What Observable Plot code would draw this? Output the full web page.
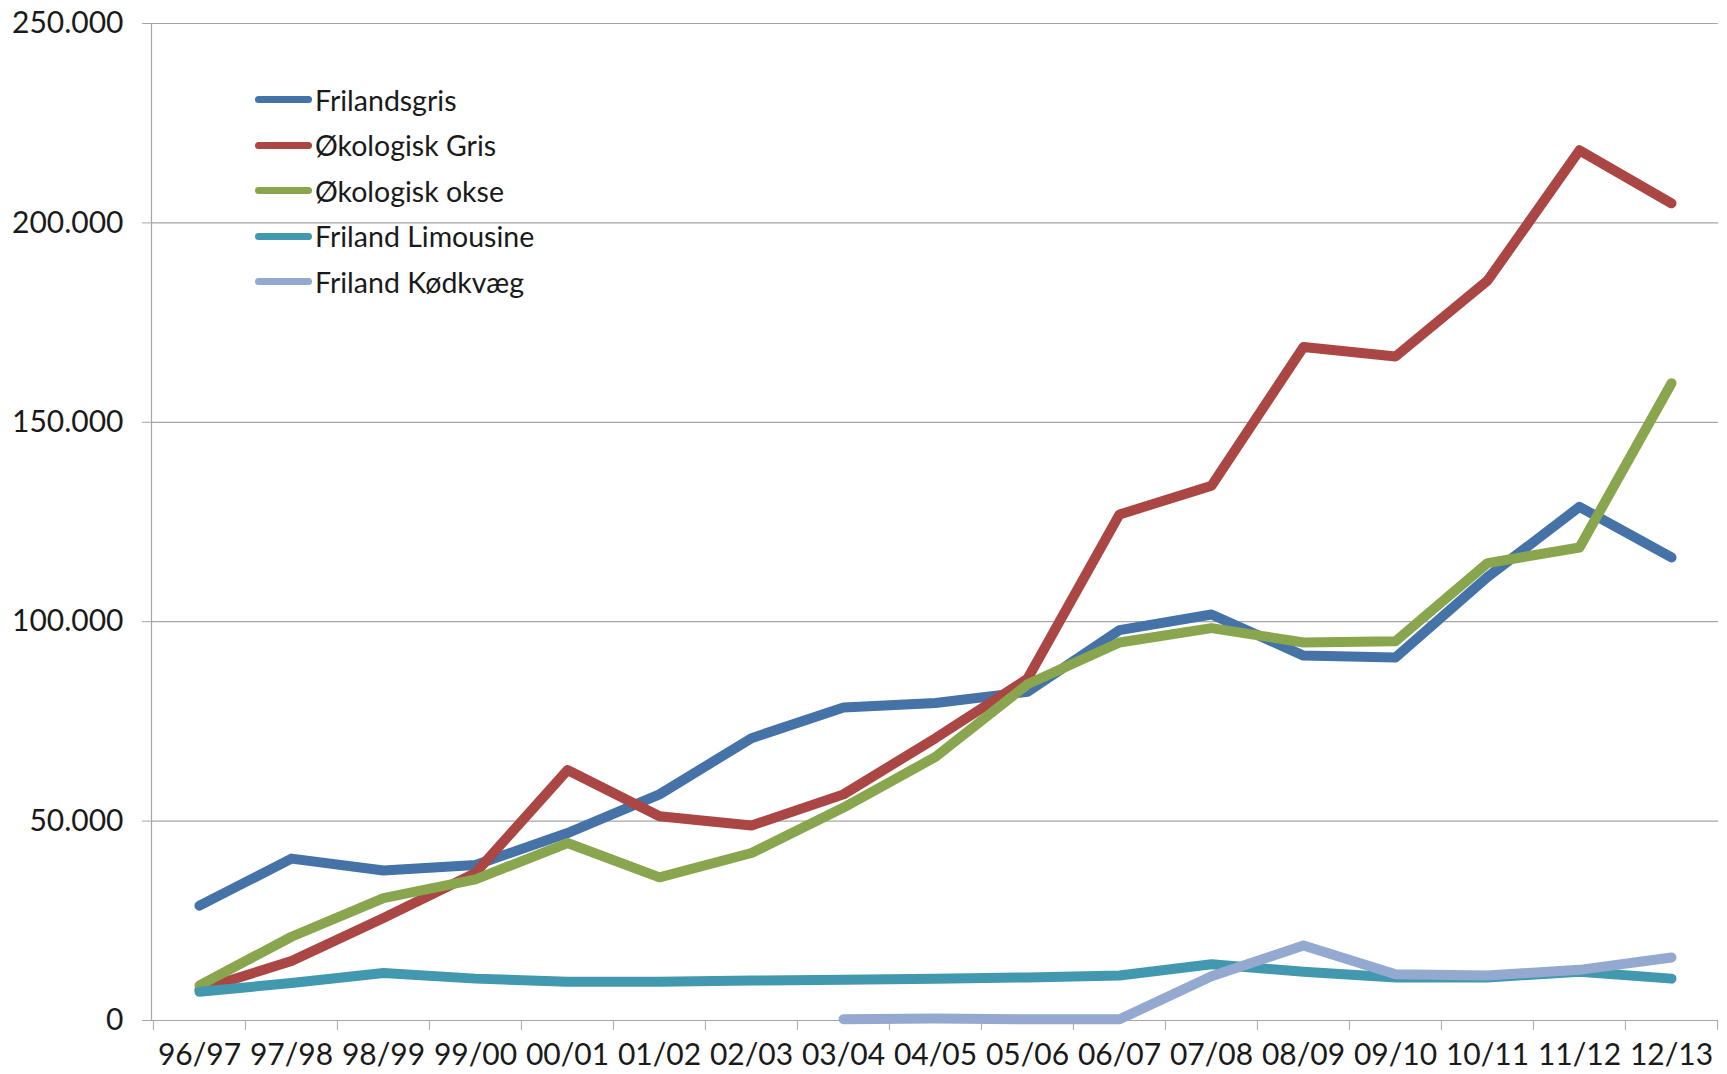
<!DOCTYPE html>
<html>
<head>
<meta charset="utf-8">
<script src="https://cdn.jsdelivr.net/npm/d3@7"></script>
<script src="https://cdn.jsdelivr.net/npm/@observablehq/plot@0.6"></script>
<style>
  html, body { margin: 0; padding: 0; background: #fff; }
  #wrap { position: relative; width: 1727px; height: 1074px; font-family: Lato, "Open Sans", sans-serif; }
  #legend { position: absolute; left: 255px; top: 77px; }
  .row { height: 45.5px; display: flex; align-items: center; font-size: 28.5px; color: #1a1a1a; }
  .sw { width: 57px; height: 7px; border-radius: 4px; margin-right: 3px; }
</style>
</head>
<body>
<div id="wrap"><div id="legend"></div></div>
<script>
const categories = ["96/97","97/98","98/99","99/00","00/01","01/02","02/03","03/04","04/05","05/06","06/07","07/08","08/09","09/10","10/11","11/12","12/13"];
const seriesNames = ["Frilandsgris","Økologisk Gris","Økologisk okse","Friland Limousine","Friland Kødkvæg"];
const seriesColors = ["#4572A7","#AA4643","#89A54E","#4198AF","#93A9CF"];
const frilandsgris   = [28800,40600,37600,39000,47000,56700,70800,78500,79600,82400,97900,101800,91500,91000,111200,128800,116100];
const okologiskGris  = [7700,14900,25700,37000,62800,51200,48900,56700,70800,85700,126900,134100,168900,166500,185500,218200,204900];
const okologiskOkse  = [8800,21000,30700,35400,44500,35900,42000,53400,66100,84300,94800,98400,94800,95100,114700,118600,159800];
const frilandLimousine = [7200,9400,11900,10500,9700,9700,10000,10200,10500,10800,11300,14100,12200,10800,10800,12200,10500];
const frilandKodkvaeg  = [null,null,null,null,null,null,null,300,500,300,300,11100,18800,11600,11300,12700,15800];
const yTicks = [0,50000,100000,150000,200000,250000];

const seriesValues = [frilandsgris, okologiskGris, okologiskOkse, frilandLimousine, frilandKodkvaeg];
const rows = [];
seriesValues.forEach((vals, si) => vals.forEach((v, i) => {
  if (v != null) rows.push({year: categories[i], series: seriesNames[si], value: v});
}));

const W = 1727, H = 1074, mL = 151, mR = 9, mT = 23, mB = 54;
const step = (W - mL - mR) / categories.length;
const gray = "#a6a6a6";
const fmt = v => d3.format(",")(v).replace(/,/g, ".");

const chart = Plot.plot({
  width: W, height: H,
  marginLeft: mL, marginRight: mR, marginTop: mT, marginBottom: mB,
  style: {fontFamily: "Lato, 'Open Sans', sans-serif", background: "#fff", color: "#1a1a1a"},
  x: {type: "point", domain: categories, padding: 0.5, label: null},
  y: {domain: [0, 250000], label: null},
  color: {domain: seriesNames, range: seriesColors},
  marks: [
    Plot.gridY(yTicks, {stroke: gray, strokeOpacity: 1, strokeWidth: 1.2}),
    Plot.frame({anchor: "left", stroke: gray, strokeWidth: 1.2}),
    Plot.ruleY([0], {stroke: gray, strokeWidth: 1.2}),
    Plot.axisY({ticks: yTicks, tickSize: 9, tickPadding: 19, tickFormat: fmt, fontSize: 30, stroke: gray, fill: "#1a1a1a", label: null}),
    Plot.axisX({tickSize: 10, tickFormat: () => "", dx: -step / 2, stroke: gray, label: null}),
    Plot.axisX({ticks: [categories[categories.length - 1]], tickSize: 10, tickFormat: () => "", dx: step / 2, stroke: gray, label: null}),
    Plot.axisX({tickSize: 0, tickPadding: 23, fontSize: 30, fill: "#1a1a1a", label: null}),
    Plot.line(rows, {x: "year", y: "value", z: "series", stroke: "series", strokeWidth: 10, strokeLinecap: "round", strokeLinejoin: "round"})
  ]
});
document.getElementById("wrap").prepend(chart);

const legend = document.getElementById("legend");
seriesNames.forEach((name, i) => {
  const r = document.createElement("div");
  r.className = "row";
  const s = document.createElement("div");
  s.className = "sw";
  s.style.background = seriesColors[i];
  const t = document.createElement("span");
  t.textContent = name;
  r.append(s, t);
  legend.append(r);
});
</script>
</body>
</html>
